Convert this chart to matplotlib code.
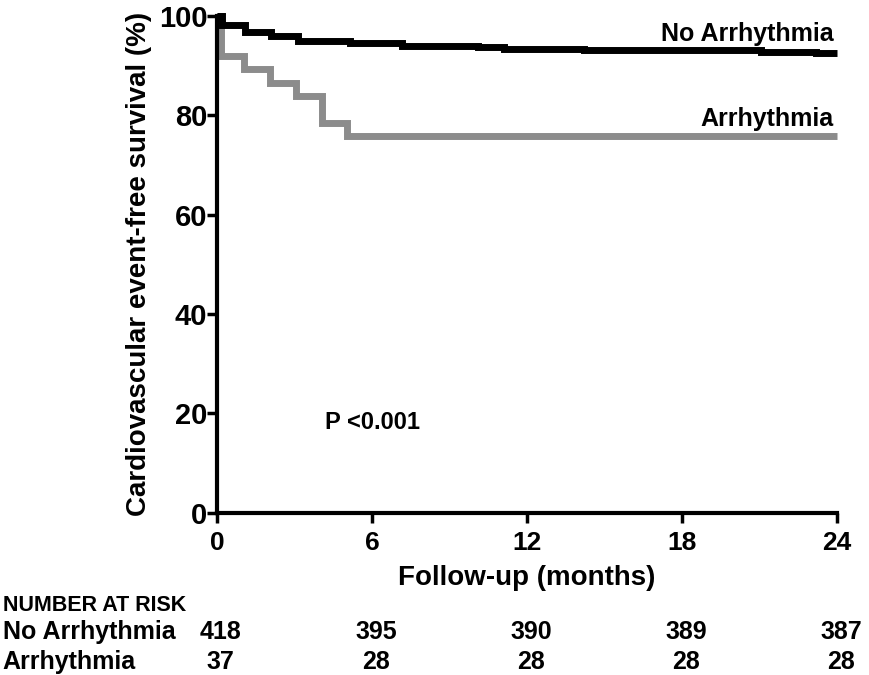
import matplotlib
matplotlib.use('Agg')
import matplotlib.pyplot as plt
from matplotlib.transforms import blended_transform_factory

plt.rcParams['font.family'] = ['Liberation Sans', 'DejaVu Sans']
plt.rcParams['font.weight'] = 'bold'

# Kaplan-Meier steps (months, % survival)
no_arr_t = [0, 0.2, 1.1, 2.1, 3.15, 5.15, 7.15, 10.1, 11.1, 14.2, 21.05, 23.2, 24]
no_arr_s = [100, 98.2, 96.7, 95.9, 94.9, 94.5, 94.0, 93.7, 93.4, 93.1, 92.8, 92.4, 92.4]

arr_t = [0, 0.15, 1.05, 2.05, 3.05, 4.05, 5.05, 24]
arr_s = [100, 91.9, 89.2, 86.5, 83.8, 78.4, 75.7, 75.7]

risk_months = [0, 6, 12, 18, 24]
risk_no_arr = [418, 395, 390, 389, 387]
risk_arr = [37, 28, 28, 28, 28]

fig = plt.figure(figsize=(8.69, 6.75), dpi=100)
ax = fig.add_axes([0.2497, 0.2404, 0.7135, 0.7363])

ax.step(arr_t, arr_s, where='post', color='#8c8c8c', lw=5,
        solid_joinstyle='miter', solid_capstyle='butt', clip_on=False)
ax.step(no_arr_t, no_arr_s, where='post', color='black', lw=5,
        solid_joinstyle='miter', solid_capstyle='butt', clip_on=False)

ax.set_xlim(0, 24)
ax.set_ylim(0, 100)
ax.set_xticks(risk_months)
ax.set_yticks([0, 20, 40, 60, 80, 100])
for s in ['top', 'right']:
    ax.spines[s].set_visible(False)
for s in ['left', 'bottom']:
    ax.spines[s].set_linewidth(3)
ax.tick_params(axis='both', width=2.5, length=7)
ax.tick_params(axis='x', labelsize=19, pad=6)
ax.tick_params(axis='y', labelsize=21, pad=0)

ax.set_xlabel('Follow-up (months)', fontsize=20, fontweight='bold', labelpad=7)
ax.set_ylabel('Cardiovascular event-free survival (%)', fontsize=20, fontweight='bold', labelpad=5)

ax.text(23.85, 96.3, 'No Arrhythmia', ha='right', va='center', fontsize=18, fontweight='bold')
ax.text(23.85, 79.2, 'Arrhythmia', ha='right', va='center', fontsize=18, fontweight='bold')
ax.text(4.18, 18.1, 'P <0.001', ha='left', va='center', fontsize=17, fontweight='bold')

# number at risk table
tr = blended_transform_factory(ax.transData, fig.transFigure)
fig.text(0.003, 0.1037, 'NUMBER AT RISK', ha='left', va='center', fontsize=15.5, fontweight='bold')
fig.text(0.003, 0.0637, 'No Arrhythmia', ha='left', va='center', fontsize=18, fontweight='bold')
fig.text(0.003, 0.0193, 'Arrhythmia', ha='left', va='center', fontsize=18, fontweight='bold')
for m, a, b in zip(risk_months, risk_no_arr, risk_arr):
    ax.text(m + 0.15, 0.0637, str(a), transform=tr, ha='center', va='center', fontsize=18, fontweight='bold')
    ax.text(m + 0.15, 0.0193, str(b), transform=tr, ha='center', va='center', fontsize=18, fontweight='bold')

fig.savefig('out.png', dpi=100)
